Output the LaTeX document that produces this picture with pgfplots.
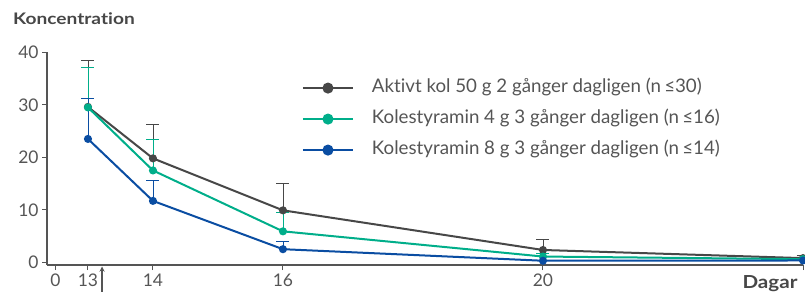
\documentclass[border=0pt]{standalone}
\usepackage{fontspec}
\setmainfont{Lato}[Ligatures={NoCommon}]
\usepackage{pgfplots}
\pgfplotsset{compat=1.18}
\definecolor{cblack}{HTML}{474747}
\definecolor{cgreen}{HTML}{00AE8A}
\definecolor{cblue}{HTML}{0A4DA2}
\definecolor{axgray}{HTML}{555555}
\begin{document}
\begin{tikzpicture}
\useasboundingbox (-47bp,-27bp) rectangle (758bp,265bp);
\begin{axis}[
  at={(0,0)}, anchor=south west,
  scale only axis, width=756bp, height=212.7bp,
  xmin=12.37, xmax=24, ymin=-0.51, ymax=40,
  axis lines*=left,
  axis line style={axgray, line width=1.3bp},
  xtick={12.5,13,14,16,20,24}, xticklabels={0,13,14,16,20,{}},
  ytick={0,10,20,30,40},
  tick align=outside, major tick length=5bp,
  tick style={axgray, line width=1bp},
  ticklabel style={font=\fontsize{17.5}{17.5}\selectfont, text=axgray},
  /pgf/number format/assume math mode=true,
  clip=false,
  legend image code/.code={
    \draw[#1, mark=none] (0bp,0bp) -- (50bp,0bp);
    \draw[#1, mark size=4.5bp] plot coordinates {(25bp,0bp)};
  },
  legend cell align=left,
  legend style={draw=none, fill=none, inner sep=0pt,
    at={(axis description cs:0.337,0.875)}, anchor=north west,
    row sep=13bp, column sep=18bp,
    nodes={inner sep=0pt, text height=13.5bp, text depth=4.5bp,
      font=\fontsize{18.8}{18.8}\selectfont, text=axgray}},
]
% error bars (upper only)
\addplot[forget plot, cblack, line width=1bp, only marks, mark=*, mark size=0pt,
  error bars/.cd, y dir=plus, y explicit,
  error mark options={rotate=90, mark size=6.5bp, line width=1bp}]
  table[x=x, y=y, y error=e] {
x y e
13 29.6 8.8
14 19.8 6.5
16 9.9 5.2
20 2.35 1.95
24 0.8 0.5
};
\addplot[forget plot, cgreen, line width=1bp, only marks, mark=*, mark size=0pt,
  error bars/.cd, y dir=plus, y explicit,
  error mark options={rotate=90, mark size=6.5bp, line width=1bp}]
  table[x=x, y=y, y error=e] {
x y e
13 29.5 7.6
14 17.5 5.8
16 5.9 3.5
20 1.1 0.6
};
\addplot[forget plot, cblue, line width=1bp, only marks, mark=*, mark size=0pt,
  error bars/.cd, y dir=plus, y explicit,
  error mark options={rotate=90, mark size=6.5bp, line width=1bp}]
  table[x=x, y=y, y error=e] {
x y e
13 23.5 7.7
14 11.7 3.9
16 2.5 1.5
};
% main series
\addplot[cblack, line width=2bp, mark=*, mark size=3bp] table {
13 29.6
14 19.8
16 9.9
20 2.35
24 0.8
};
\addlegendentry{Aktivt kol 50 g 2 gånger dagligen (n\,≤30)}
\addplot[cgreen, line width=2bp, mark=*, mark size=3bp] table {
13 29.5
14 17.5
16 5.9
20 1.1
24 0.6
};
\addlegendentry{Kolestyramin 4 g 3 gånger dagligen (n\,≤16)}
\addplot[cblue, line width=2bp, mark=*, mark size=3bp] table {
13 23.5
14 11.7
16 2.5
20 0.3
24 0.35
};
\addlegendentry{Kolestyramin 8 g 3 gånger dagligen (n\,≤14)}
\end{axis}
\node[anchor=west, font=\bfseries\fontsize{16}{16}\selectfont\addfontfeatures{FakeStretch=1.2}, text=cblack, inner sep=0pt] at (-34bp,246bp) {Koncentration};
\node[font=\bfseries\fontsize{18}{18}\selectfont\addfontfeatures{FakeStretch=1.15}, text=cblack, inner sep=0pt] at (723bp,-19bp) {Dagar};
\draw[-stealth, axgray, line width=1.3bp] (55bp,-30bp) -- (55bp,-1.5bp);
\end{tikzpicture}
\end{document}
